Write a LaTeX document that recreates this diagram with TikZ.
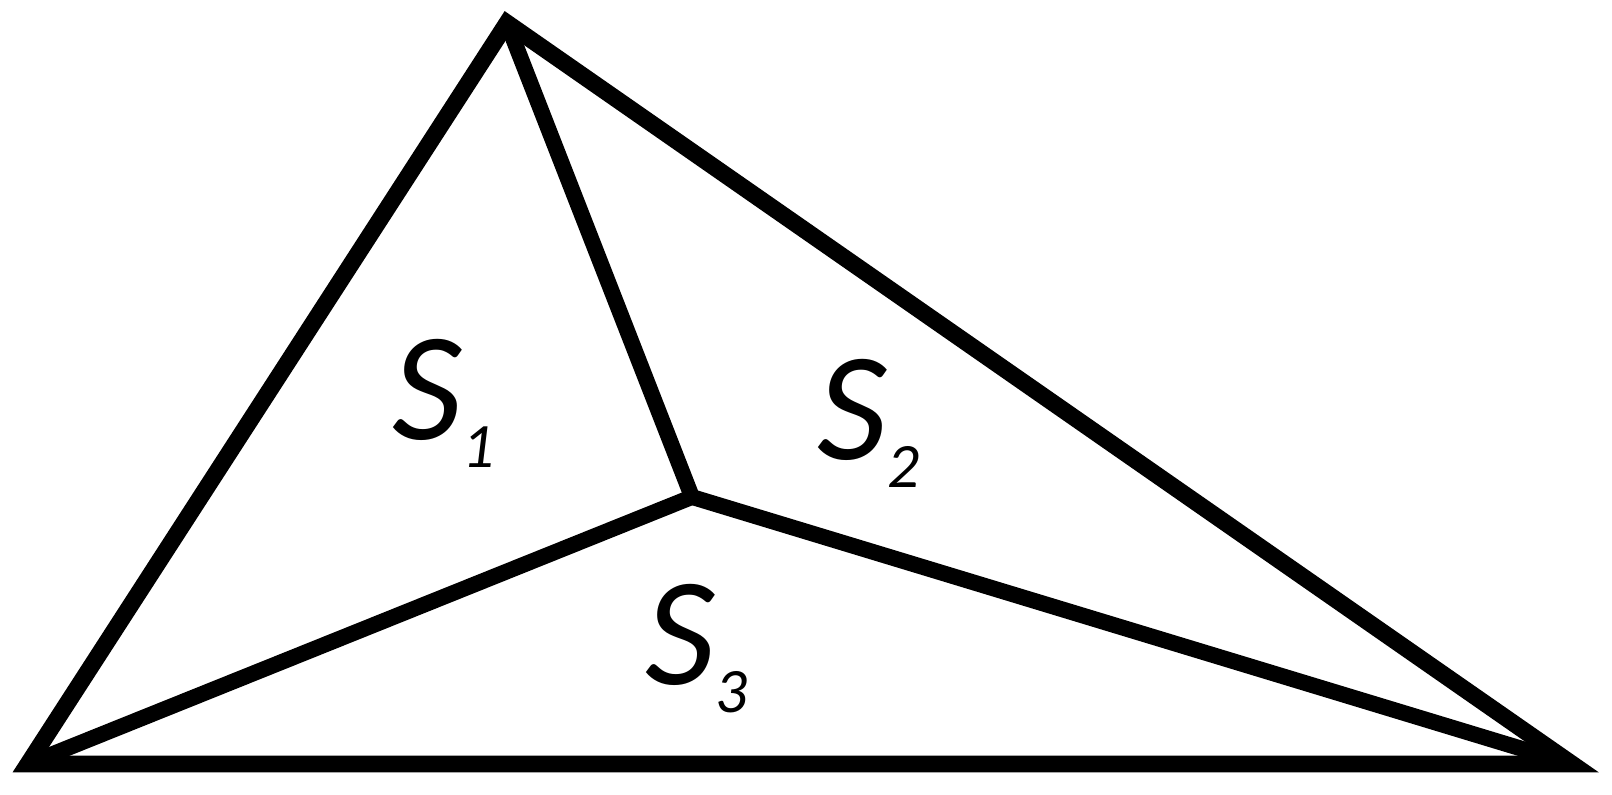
\documentclass[tikz,border=0pt]{standalone}
\usepackage{fontspec}
\setmainfont{Carlito}
\usepackage{tikz}
\usetikzlibrary{positioning}

\newcommand{\areasub}[2]{\textit{#1}\raisebox{-0.18em}{\fontsize{18}{18}\selectfont\textit{#2}}}

\begin{document}
\begin{tikzpicture}[
  edge/.style={
    draw=black,
    line width=4.8pt,
    line join=miter
  },
  spoke/.style={
    draw=black,
    line width=4.5pt
  },
  area/.style={
    font=\fontsize{44}{44}\selectfont,
    inner sep=0pt,
    anchor=base west
  }
]

\useasboundingbox (0,0) rectangle (16.12,7.95);

% Triangle corners and inner point
\coordinate (apex) at (5.07,7.72);
\coordinate (left) at (0.28,0.31);
\coordinate (right) at (15.72,0.31);
\coordinate (inner) at (6.92,2.98);

% Outer triangle
\draw[edge] (apex) -- (right) -- (left) -- cycle;

% Lines from the inner point to the corners
\draw[spoke] (inner) -- (apex);
\draw[spoke] (inner) -- (left);
\draw[spoke] (inner) -- (right);

% Area labels
\node[area] (s1) at (3.92,3.55) {\areasub{S}{1}};
\node[area] (s2) at (8.17,3.35) {\areasub{S}{2}};
\node[area] (s3) at (6.45,1.10) {\areasub{S}{3}};

\end{tikzpicture}
\end{document}
